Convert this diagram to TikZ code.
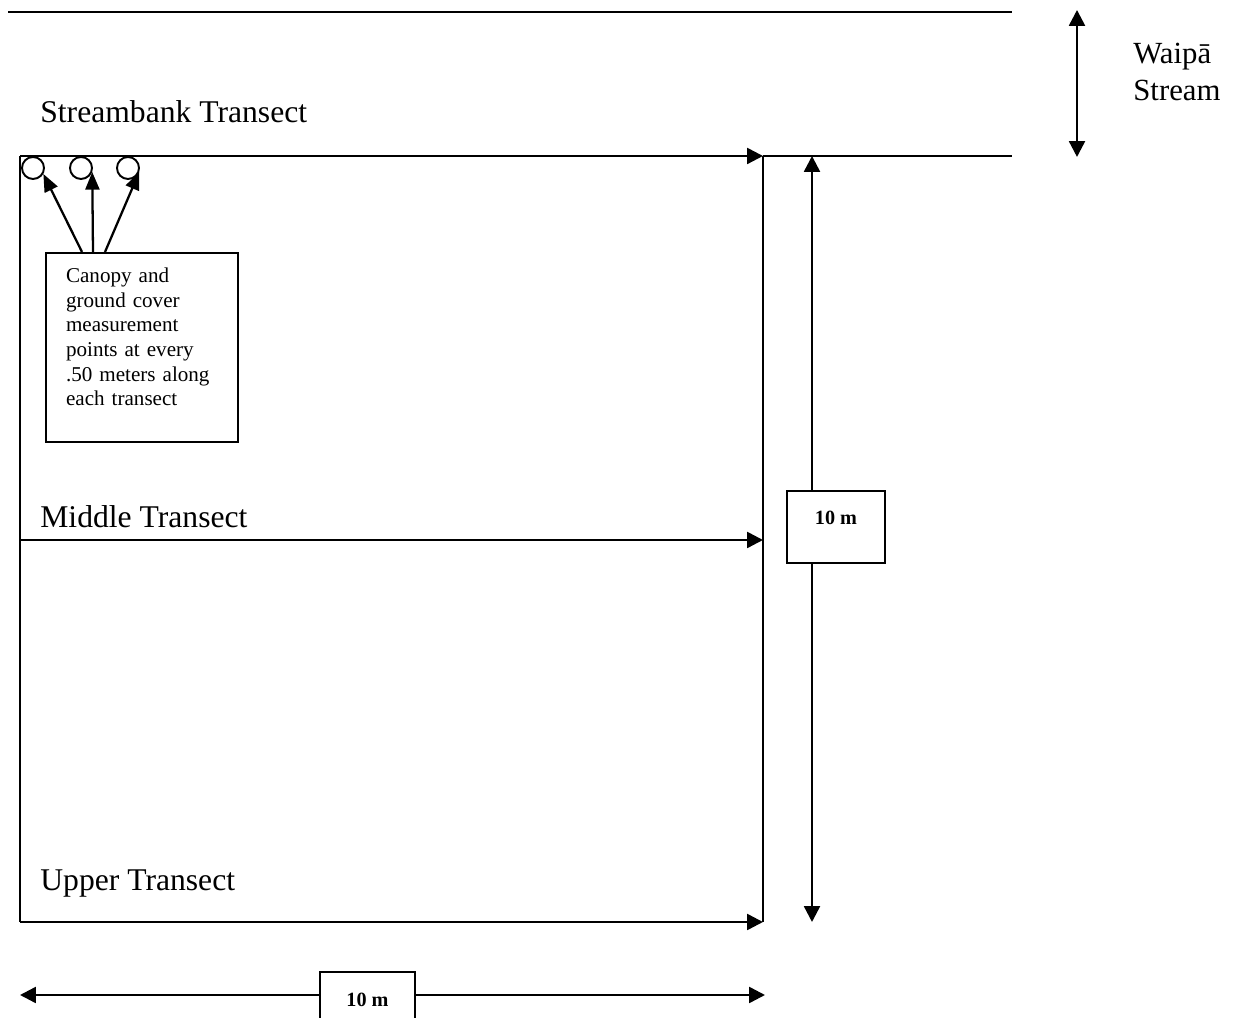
\documentclass[tikz,border=0pt]{standalone}
\usepackage{fontspec}
\setmainfont{Liberation Serif}
\usetikzlibrary{arrows.meta}

\begin{document}
\begin{tikzpicture}[
    edge/.style={line width=1.4pt},
    thin/.style={line width=0.9pt},
    transect/.style={line width=1.4pt, -{Triangle[length=9pt, width=9pt]}},
    dim/.style={line width=1.4pt, -{Triangle[length=9pt, width=9pt]}},
    span/.style={line width=1.4pt, {Triangle[length=9pt, width=9pt]}-{Triangle[length=9pt, width=9pt]}},
    ptr/.style={line width=1.3pt, -{Triangle[length=10pt, width=8pt]}},
    pt/.style={circle, draw, line width=1.1pt, minimum size=0.44cm, inner sep=0pt},
    lbl/.style={font=\fontsize{18}{20}\selectfont, anchor=base west, inner sep=0pt},
    notebox/.style={draw, line width=1.2pt, text width=3.04cm, inner xsep=0.4cm,
        inner ysep=0.3cm, align=left, font=\fontsize{12}{14}\selectfont},
    sizebox/.style={draw, line width=1.4pt, font=\bfseries\fontsize{11.5}{13}\selectfont},
]
\useasboundingbox (0, 0) rectangle (24.66, 20.36);

% ============================================================ the stream
\coordinate (topL) at (0.16, 20.12);
\coordinate (topR) at (20.24, 20.12);
\coordinate (bankEnd) at (20.24, 17.24);
\draw[edge] (topL) -- (topR);

\coordinate (sTop) at (21.54, 20.16);
\coordinate (sBot) at (21.54, 17.22);
\draw[span] (sTop) -- (sBot);
\node[font=\fontsize{17.5}{21.5}\selectfont, anchor=west, align=left, inner sep=0pt]
    (stream) at (22.66, 18.92) {Waipā\\Stream};

% ============================================================ the plot and its transects
\coordinate (sbL) at (0.40, 17.24);
\coordinate (sbR) at (15.26, 17.24);
\coordinate (midL) at (0.40, 9.56);
\coordinate (midR) at (15.26, 9.56);
\coordinate (upL) at (0.40, 1.92);
\coordinate (upR) at (15.26, 1.92);

\draw[edge] (sbL) -- (upL);
\draw[edge] (sbR) -- (upR);
\draw[transect] (sbL) -- (sbR);
\draw[thin] (sbR) -- (bankEnd);
\draw[transect] (midL) -- (midR);
\draw[transect] (upL) -- (upR);

\node[lbl] (sbLabel) at (0.80, 17.90) {Streambank Transect};
\node[lbl] (midLabel) at (0.80, 9.80) {Middle Transect};
\node[lbl] (upLabel) at (0.80, 2.54) {Upper Transect};

% measurement points
\node[pt] (c1) at (0.66, 17.00) {};
\node[pt] (c2) at (1.62, 17.00) {};
\node[pt] (c3) at (2.56, 17.00) {};

\node[notebox, anchor=north west] (note) at (0.90, 15.32)
    {Canopy and\\ ground cover\\ measurement\\ points at every\\ .50 meters along\\
     each transect\rule[-0.42cm]{0pt}{0.1pt}};

\draw[ptr] ([xshift=0.74cm]note.north west) -- (c1.-30);
\draw[ptr] ([xshift=0.96cm]note.north west) -- (c2.-20);
\draw[ptr] ([xshift=1.20cm]note.north west) -- (c3.-20);

% ============================================================ the two dimensions
\coordinate (vTop) at (16.24, 17.24);
\coordinate (vBot) at (16.24, 1.92);
\node[sizebox, minimum width=1.96cm, minimum height=1.44cm, text height=0.52cm,
    text depth=0.62cm] (dimV) at (16.72, 9.82) {10 m};
\draw[dim] (dimV.north -| vTop) -- (vTop);
\draw[dim] (dimV.south -| vBot) -- (vBot);

\coordinate (hL) at (0.40, 0.46);
\coordinate (hR) at (15.30, 0.46);
\node[sizebox, minimum width=1.90cm, minimum height=1.1cm, anchor=north] (dimH)
    at (7.35, 0.94) {10 m};
\draw[dim] (dimH.west |- hL) -- (hL);
\draw[dim] (dimH.east |- hR) -- (hR);

\end{tikzpicture}
\end{document}
